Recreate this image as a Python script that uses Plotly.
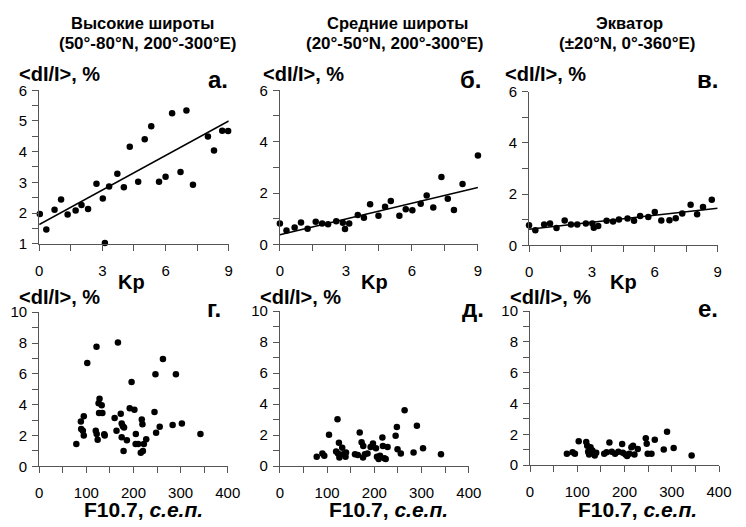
import plotly.graph_objects as go

W, H = 746, 527

# ---------------- data ----------------
kp_a = [0.03, 0.34, 0.73, 1.04, 1.35, 1.73, 2.01, 2.32, 2.72, 3.02, 3.12, 3.32, 3.71, 4.02, 4.30,
        4.70, 5.01, 5.32, 5.69, 6.00, 6.31, 6.71, 6.99, 7.30, 7.67, 8.01, 8.30, 8.69, 8.97]
di_a = [1.97, 1.46, 2.11, 2.44, 1.95, 2.08, 2.26, 2.13, 2.95, 2.47, 1.02, 2.86, 3.28, 2.84, 4.16,
        3.02, 4.40, 4.83, 3.02, 3.18, 5.25, 3.34, 5.34, 2.92, 6.25, 4.49, 4.04, 4.68, 4.67]

kp_b = [0.00, 0.30, 0.67, 0.96, 1.26, 1.63, 1.92, 2.19, 2.56, 2.86, 2.96, 3.15, 3.54, 3.82, 4.10,
        4.48, 4.78, 5.04, 5.43, 5.72, 6.02, 6.40, 6.67, 6.97, 7.34, 7.63, 7.91, 8.30, 9.00]
di_b = [0.82, 0.54, 0.66, 0.85, 0.61, 0.88, 0.82, 0.79, 0.90, 0.84, 0.60, 0.82, 1.15, 1.04, 1.56,
        1.12, 1.47, 1.69, 1.12, 1.37, 1.33, 1.58, 1.91, 1.44, 2.63, 1.78, 1.34, 2.35, 3.46]

kp_c = [0.00, 0.30, 0.72, 1.00, 1.31, 1.70, 2.00, 2.30, 2.71, 3.02, 3.09, 3.30, 3.70, 4.01, 4.29,
        4.70, 5.01, 5.30, 5.69, 6.00, 6.31, 6.70, 7.00, 7.31, 7.71, 8.02, 8.30, 8.72, 9.02]
di_c = [0.79, 0.59, 0.82, 0.86, 0.68, 0.97, 0.82, 0.82, 0.86, 0.86, 0.69, 0.76, 0.96, 0.93, 1.01,
        1.05, 0.96, 1.15, 1.11, 1.30, 0.97, 0.98, 1.06, 1.25, 1.59, 1.22, 1.50, 1.78, 1.61]

# linear fits (Kp from 0 to 9): intercept, slope
fit_kp = [0, 9]
fit_a = [1.62, (5.00 - 1.62) / 9]
fit_b = [0.38, (2.22 - 0.38) / 9]
fit_c = [0.63, (1.45 - 0.63) / 9]

f_g = [78.8, 88.4, 89.1, 92.6, 94.6, 94.6, 102, 120, 121.6, 122, 124, 126, 128, 127, 132.6, 134,
       138, 139, 160, 164, 167, 173, 175, 177.5, 175, 179, 180, 186, 192, 196, 202, 205, 204.5,
       210, 215.5, 217.6, 219, 220, 222, 227, 244.6, 246.6, 248, 262.5, 255.6, 283, 290, 302.6, 342]
di_g = [1.45, 2.91, 2.41, 2.31, 3.25, 1.99, 6.71, 2.31, 7.76, 2.10, 1.72, 4.09, 4.38, 3.46, 3.96, 3.46,
        2.08, 1.99, 3.14, 2.31, 8.03, 3.40, 2.77, 2.60, 1.89, 0.99, 2.52, 1.68, 3.77, 5.47, 3.67, 2.10, 1.45,
        1.45, 0.88, 3.04, 2.73, 0.99, 1.45, 1.76, 3.52, 5.97, 2.18, 6.96, 2.56, 2.68, 5.97, 2.77, 2.10]

f_d = [78, 90, 94, 104, 119, 122, 125, 123, 126, 132, 134, 139, 140, 159, 165, 169, 173, 176.5, 176,
       180, 185.5, 192, 197, 203.4, 205.5, 209, 212, 217, 218, 221, 224, 228, 245, 247.6, 249, 256,
       264, 283, 290, 303, 341]
di_d = [0.60, 0.81, 0.67, 2.02, 0.94, 3.02, 1.50, 0.81, 0.56, 1.19, 0.77, 0.60, 0.87, 0.77, 0.71, 2.17,
        1.54, 1.29, 0.56, 0.77, 0.81, 1.23, 1.46, 1.15, 0.60, 0.46, 0.67, 1.85, 1.29, 0.50, 0.46, 1.23,
        1.96, 2.52, 1.08, 0.81, 3.60, 0.87, 2.60, 1.15, 0.77]

f_e = [78, 90, 95, 103, 119, 121, 123, 125, 128, 132, 134, 137, 140, 157, 162, 168, 173, 180, 187,
       195, 196.5, 202, 205.5, 210, 214.5, 218, 221, 228, 245, 247, 249, 257, 264, 283, 290, 304, 342]
di_e = [0.74, 0.84, 0.74, 1.55, 1.50, 1.26, 0.86, 0.69, 1.16, 0.95, 0.80, 0.63, 0.80, 0.74, 0.84, 1.47,
        0.86, 0.74, 0.86, 1.37, 0.80, 0.69, 0.59, 0.74, 1.16, 1.26, 0.69, 1.05, 1.74, 1.39, 0.74, 0.74,
        1.64, 1.01, 2.16, 1.11, 0.63]

titles = [["Высокие широты", "(50°-80°N, 200°-300°E)"],
          ["Средние широты", "(20°-50°N, 200°-300°E)"],
          ["Экватор", "(±20°N, 0°-360°E)"]]
letters = ["а.", "б.", "в.", "г.", "д.", "е."]
ylab = "<dI/I>, %"
xlab_top = "Kp"
xlab_bot = "F10.7, <i>с.е.п.</i>"

# ---------------- layout helpers ----------------
FONT = "Liberation Sans, Arial, sans-serif"
AX = "#555555"


def px(x):
    return x / W


def py(y):
    return 1 - y / H


fig = go.Figure()

panels = [
    dict(x=kp_a, y=di_a, fit=fit_a, dom=(36, 230), ydom=(84, 242.5), xr=[0, 9], yr=[1, 6],
         xd=3, xm=1.5, yd=1, ym=0.5),
    dict(x=kp_b, y=di_b, fit=fit_b, dom=(282.3, 485), ydom=(84, 243.3), xr=[0, 9], yr=[0, 6],
         xd=3, xm=1.5, yd=2, ym=1),
    dict(x=kp_c, y=di_c, fit=fit_c, dom=(537.3, 730.3), ydom=(85.5, 244.3), xr=[0, 9], yr=[0, 6],
         xd=3, xm=1.5, yd=2, ym=1),
    dict(x=f_g, y=di_g, fit=None, dom=(36, 229), ydom=(313.3, 472.5), xr=[0, 400], yr=[0, 10],
         xd=100, xm=50, yd=2, ym=1),
    dict(x=f_d, y=di_d, fit=None, dom=(282.3, 475.7), ydom=(312.3, 472.3), xr=[0, 400], yr=[0, 10],
         xd=100, xm=50, yd=2, ym=1),
    dict(x=f_e, y=di_e, fit=None, dom=(538.3, 731.7), ydom=(312.3, 471.3), xr=[0, 400], yr=[0, 10],
         xd=100, xm=50, yd=2, ym=1),
]

for i, p in enumerate(panels):
    n = i + 1
    xa = "x" if n == 1 else f"x{n}"
    ya = "y" if n == 1 else f"y{n}"
    if p["fit"] is not None:
        b0, b1 = p["fit"]
        fig.add_trace(go.Scatter(x=fit_kp, y=[b0 + b1 * k for k in fit_kp], mode="lines",
                                 line=dict(color="black", width=1.6), xaxis=xa, yaxis=ya,
                                 showlegend=False, hoverinfo="skip"))
    fig.add_trace(go.Scatter(x=p["x"], y=p["y"], mode="markers",
                             marker=dict(color="black", size=6.5), xaxis=xa, yaxis=ya,
                             cliponaxis=False, showlegend=False))
    common = dict(showline=True, linecolor=AX, linewidth=1, showgrid=False, zeroline=False,
                  ticks="outside", ticklen=6, tickcolor=AX, tickwidth=1,
                  tickfont=dict(family=FONT, size=15, color="black"), fixedrange=True)
    fig.layout[f"xaxis{'' if n == 1 else n}"] = dict(
        domain=[px(p["dom"][0]), px(p["dom"][1])], range=p["xr"], anchor=ya,
        tickmode="linear", tick0=0, dtick=p["xd"], ticklabelstandoff=7,
        minor=dict(ticks="outside", ticklen=6, tickcolor=AX, tick0=0, dtick=p["xm"], showgrid=False),
        **common)
    fig.layout[f"yaxis{'' if n == 1 else n}"] = dict(
        domain=[py(p["ydom"][1]), py(p["ydom"][0])], range=p["yr"], anchor=xa,
        tickmode="linear", tick0=0, dtick=p["yd"], ticklabelstandoff=2,
        minor=dict(ticks="outside", ticklen=6, tickcolor=AX, tick0=0, dtick=p["ym"], showgrid=False),
        **common)

ann = []


def text(s, x, y, size, xanchor="center", yanchor="middle"):
    ann.append(dict(text=s, x=px(x), y=py(y), xref="paper", yref="paper", showarrow=False,
                    xanchor=xanchor, yanchor=yanchor, borderpad=0,
                    font=dict(family=FONT, size=size, color="black")))


title_pos = [((142, 14), (147, 36)), ((403, 14), (400, 36)), ((640, 14), (638, 36))]
for t, pos in zip(titles, title_pos):
    text(f"<b>{t[0]}</b>", pos[0][0], pos[0][1], 16.5)
    text(f"<b>{t[1]}</b>", pos[1][0], pos[1][1], 17)

ylab_pos = [(14, 67), (264, 67), (512, 67), (14, 298), (261, 298), (517, 298)]
for (x, y) in ylab_pos:
    text(f"<b>{ylab}</b>", x, y, 20, xanchor="left")

letter_pos = [(219, 73), (478, 73), (720, 73), (215, 309), (480, 309), (720, 309)]
for s, (x, y) in zip(letters, letter_pos):
    text(f"<b>{s}</b>", x, y, 24)

for x in [130, 379, 634]:
    text(f"<b>{xlab_top}</b>", x, 282, 20)
for x in [143, 393, 648]:
    text(f"<b>{xlab_bot}</b>", x, 517, 21)

fig.update_layout(width=W, height=H, autosize=False, margin=dict(l=0, r=0, t=0, b=0),
                  paper_bgcolor="white", plot_bgcolor="white", annotations=ann,
                  showlegend=False)

fig.write_html("out.html",
               config=dict(displayModeBar=False, responsive=False),
               post_script="document.body.style.margin='0';document.body.style.padding='0';")
